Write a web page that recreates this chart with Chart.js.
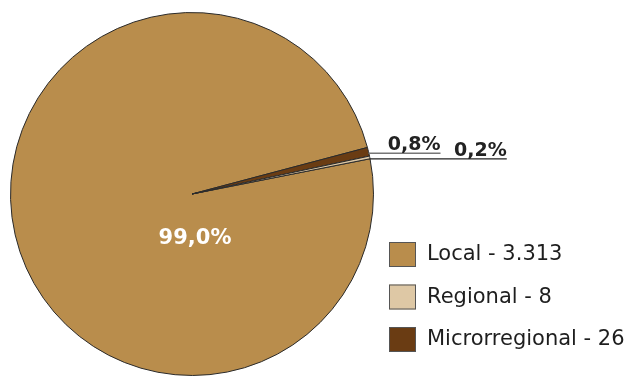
<!DOCTYPE html>
<html>
<head>
<meta charset="utf-8">
<script src="https://cdn.jsdelivr.net/npm/chart.js@4/dist/chart.umd.min.js"></script>
<style>
    html, body { margin: 0; padding: 0; background: #fff; }
    #wrap { width: 637px; height: 376px; }
</style>
</head>
<body>
<div id="wrap"><canvas id="pie-chart" width="637" height="376"></canvas></div>
<script>
// ── Data ──────────────────────────────────────────────────
const categories = ['Local', 'Regional', 'Microrregional'];
const counts     = [3313, 8, 26];
const colors     = ['#B98D4C', '#DEC8A5', '#6A3C13'];

// slice drawing order (clockwise): Local, Microrregional, Regional
const drawOrder = [0, 2, 1];

const FONT = "'DejaVu Sans', 'Open Sans', sans-serif";
const total = counts.reduce((a, b) => a + b, 0);

function pctText(v) {
    return (v / total * 100).toFixed(1).replace('.', ',') + '%';
}

function thousands(n) {
    return String(n).replace(/\B(?=(\d{3})+(?!\d))/g, '.');
}

// ── Percentage labels + leader lines ─────────────────────
const sliceLabels = {
    id: 'sliceLabels',
    afterDatasetsDraw(chart) {
        const ctx = chart.ctx;
        const arcs = chart.getDatasetMeta(0).data;
        ctx.save();

        // big slice: label below the centre
        const big = arcs[0];
        ctx.font = 'bold 21px ' + FONT;
        ctx.fillStyle = '#ffffff';
        ctx.textAlign = 'center';
        ctx.textBaseline = 'middle';
        ctx.fillText(pctText(counts[drawOrder[0]]), big.x + 3, big.y + 45);

        // small slices: horizontal leader lines to the right
        const leaders = [
            { idx: 1, len: 72, color: '#777777' },
            { idx: 2, len: 137, color: '#222222' }
        ];
        leaders.forEach(l => {
            const arc = arcs[l.idx];
            const mid = (arc.startAngle + arc.endAngle) / 2;
            const x0 = arc.x + Math.cos(mid) * arc.outerRadius;
            const y0 = arc.y + Math.sin(mid) * arc.outerRadius + 1.5;
            ctx.strokeStyle = l.color;
            ctx.lineWidth = 1.4;
            ctx.beginPath();
            ctx.moveTo(x0, y0);
            ctx.lineTo(x0 + l.len, y0);
            ctx.stroke();

            ctx.font = 'bold 19px ' + FONT;
            ctx.fillStyle = '#222222';
            ctx.textAlign = 'right';
            ctx.textBaseline = 'alphabetic';
            ctx.fillText(pctText(counts[drawOrder[l.idx]]), x0 + l.len, y0 - 3);
        });
        ctx.restore();
    }
};

// ── Legend (Local, Regional, Microrregional) ─────────────
const sideLegend = {
    id: 'sideLegend',
    afterDraw(chart) {
        const ctx = chart.ctx;
        ctx.save();
        categories.forEach((name, i) => {
            const y = 254 + i * 42.5;
            ctx.fillStyle = colors[i];
            ctx.fillRect(389, y - 12, 27, 25);
            ctx.strokeStyle = '#555555';
            ctx.lineWidth = 1;
            ctx.strokeRect(389.5, y - 11.5, 26, 24);

            ctx.font = '21px ' + FONT;
            ctx.fillStyle = '#1e1e1e';
            ctx.textAlign = 'left';
            ctx.textBaseline = 'middle';
            ctx.fillText(name + ' - ' + thousands(counts[i]), 427, y + 1);
        });
        ctx.restore();
    }
};

new Chart(document.getElementById('pie-chart'), {
    type: 'pie',
    data: {
        labels: drawOrder.map(i => categories[i]),
        datasets: [{
            data: drawOrder.map(i => counts[i]),
            backgroundColor: drawOrder.map(i => colors[i]),
            borderColor: '#2a2a2a',
            borderWidth: 1
        }]
    },
    options: {
        responsive: false,
        animation: false,
        rotation: 78.8,
        layout: { padding: { left: 9, top: 12, right: 262, bottom: 0 } },
        plugins: {
            legend: { display: false },
            tooltip: { enabled: false }
        }
    },
    plugins: [sliceLabels, sideLegend]
});
</script>
</body>
</html>
